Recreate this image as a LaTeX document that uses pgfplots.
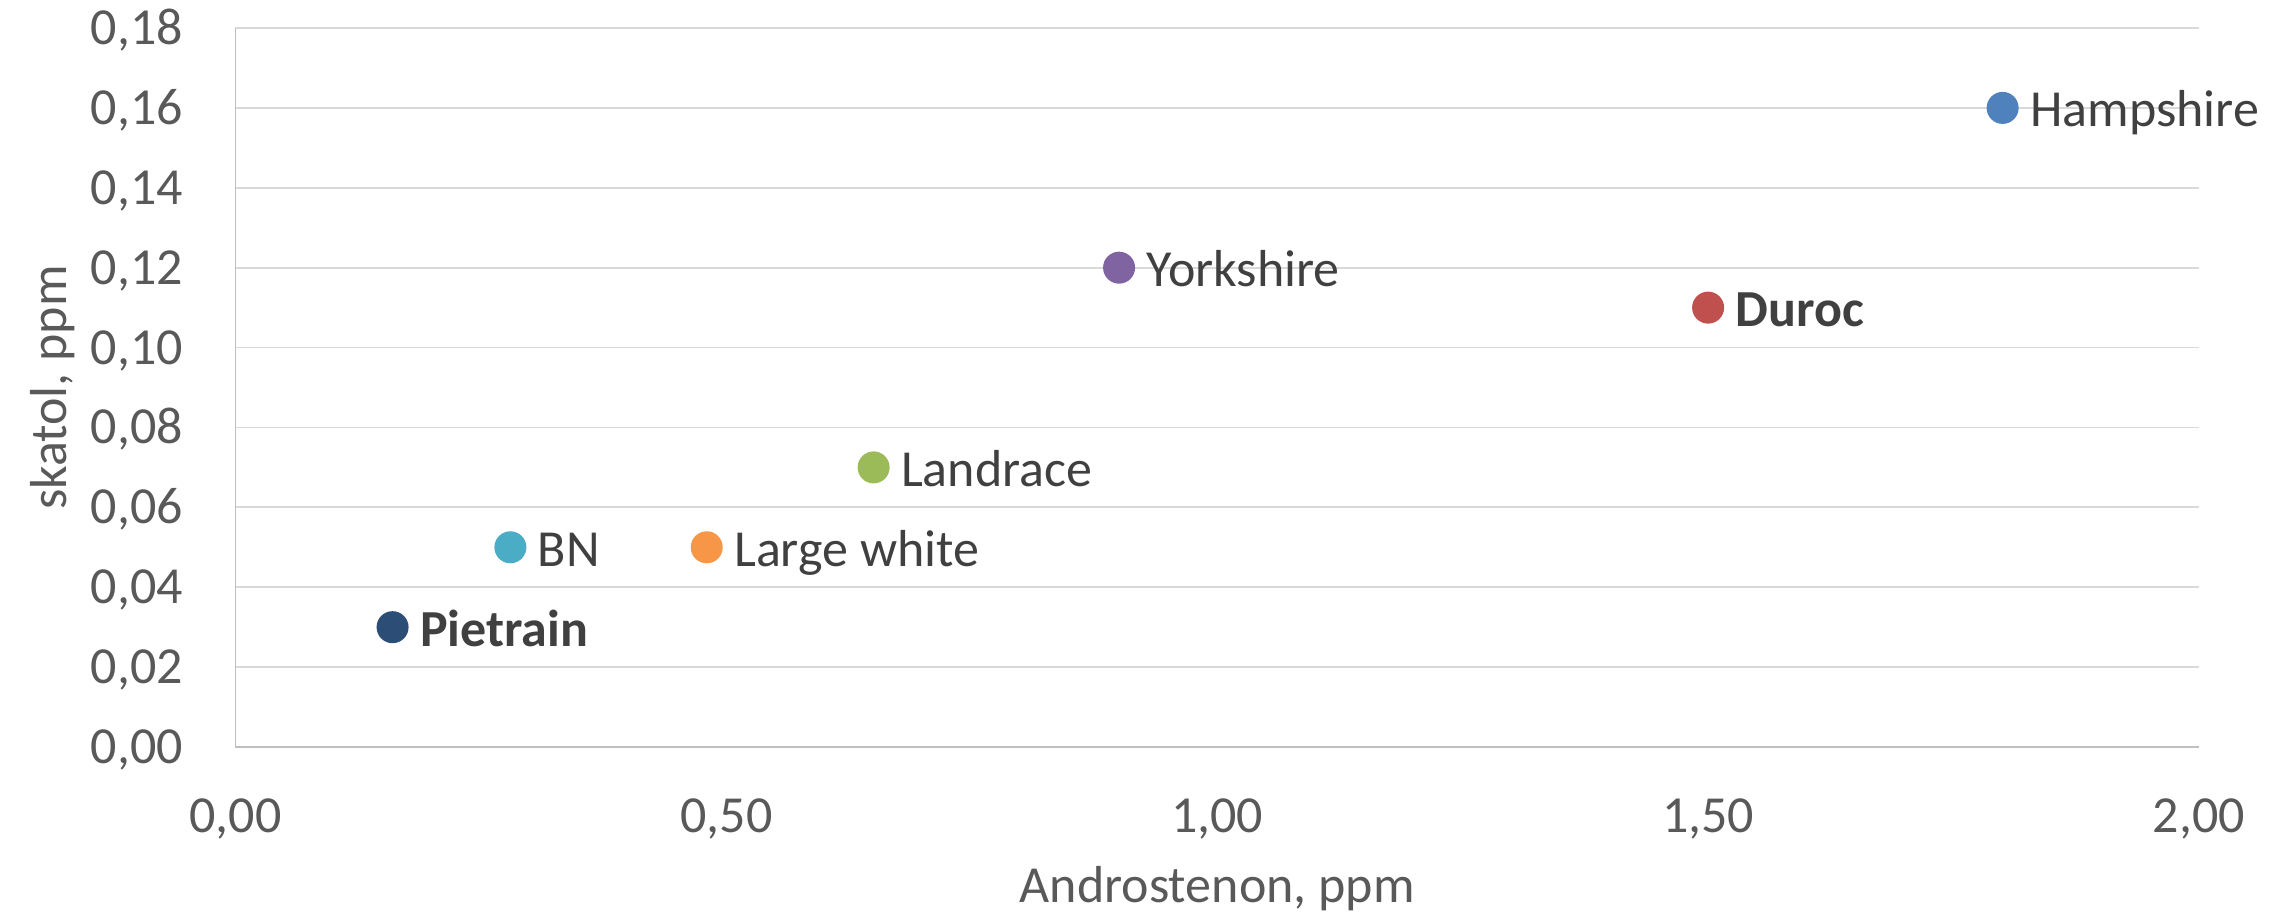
\documentclass[border=0pt]{standalone}
\usepackage{fontspec}
\setmainfont{Carlito}
\usepackage{pgfplots}
\pgfplotsset{compat=1.18}

\definecolor{cHam}{HTML}{4F81BD}
\definecolor{cDur}{HTML}{C0504D}
\definecolor{cYor}{HTML}{8064A2}
\definecolor{cLan}{HTML}{9BBB59}
\definecolor{cLar}{HTML}{F79646}
\definecolor{cBN}{HTML}{4BACC6}
\definecolor{cPie}{HTML}{2C4D75}
\definecolor{tickc}{HTML}{595959}
\definecolor{labc}{HTML}{404040}
\definecolor{gridc}{HTML}{D9D9D9}
\definecolor{axlc}{HTML}{BFBFBF}

\newcommand{\fs}{\fontsize{10.4}{12.5}\selectfont}

\pgfplotsset{
  breed/.style={only marks, mark=*, mark size=3pt,
    mark options={draw=#1, fill=#1},
    nodes near coords, point meta=explicit symbolic,
    every node near coord/.append style={anchor=base west, inner sep=0pt,
      xshift=5.3pt, yshift=-3.8pt, text=labc, font=\fs}},
}

\begin{document}
\begin{tikzpicture}
\begin{axis}[
  scale only axis,
  width=392.7pt, height=143.8pt,
  xmin=0, xmax=2, ymin=0, ymax=0.18,
  xtick={0,0.5,1,1.5,2},
  ytick={0,0.02,0.04,0.06,0.08,0.1,0.12,0.14,0.16,0.18},
  axis x line*=bottom, axis y line*=left,
  axis line style={axlc, line width=0.35pt, -},
  major tick length=0pt,
  ymajorgrids, xmajorgrids=false,
  major grid style={gridc, line width=0.35pt},
  /pgf/number format/.cd, use comma, fixed, fixed zerofill, precision=2, assume math mode=true,
  /pgfplots/.cd,
  ticklabel style={font=\fs, text=tickc, inner sep=0pt},
  xticklabel style={anchor=base, yshift=-17pt},
  yticklabel style={anchor=base east, xshift=-10.3pt, yshift=-3.3pt},
  xlabel={Androstenon, ppm},
  ylabel={skatol, ppm},
  label style={font=\fs, text=tickc, inner sep=0pt},
  xlabel style={at={(axis description cs:0.5,0)}, anchor=base, yshift=-31pt},
  ylabel style={at={(axis description cs:0,0.5)}, anchor=base, yshift=33.7pt},
  clip=false,
]
\addplot[breed=cHam] coordinates {(1.80,0.16) [Hampshire]};
\addplot[breed=cDur] coordinates {(1.50,0.11) [\textbf{Duroc}]};
\addplot[breed=cYor] coordinates {(0.90,0.12) [Yorkshire]};
\addplot[breed=cLan] coordinates {(0.65,0.07) [Landrace]};
\addplot[breed=cLar] coordinates {(0.48,0.05) [Large white]};
\addplot[breed=cBN]  coordinates {(0.28,0.05) [BN]};
\addplot[breed=cPie] coordinates {(0.16,0.03) [\textbf{Pietrain}]};
\coordinate (ll) at (rel axis cs:0,0);
\end{axis}
\pgfresetboundingbox
\path[use as bounding box] ([shift={(-47.1pt,-33.8pt)}]ll) rectangle ([shift={(410.9pt,149.4pt)}]ll);
\end{tikzpicture}
\end{document}
